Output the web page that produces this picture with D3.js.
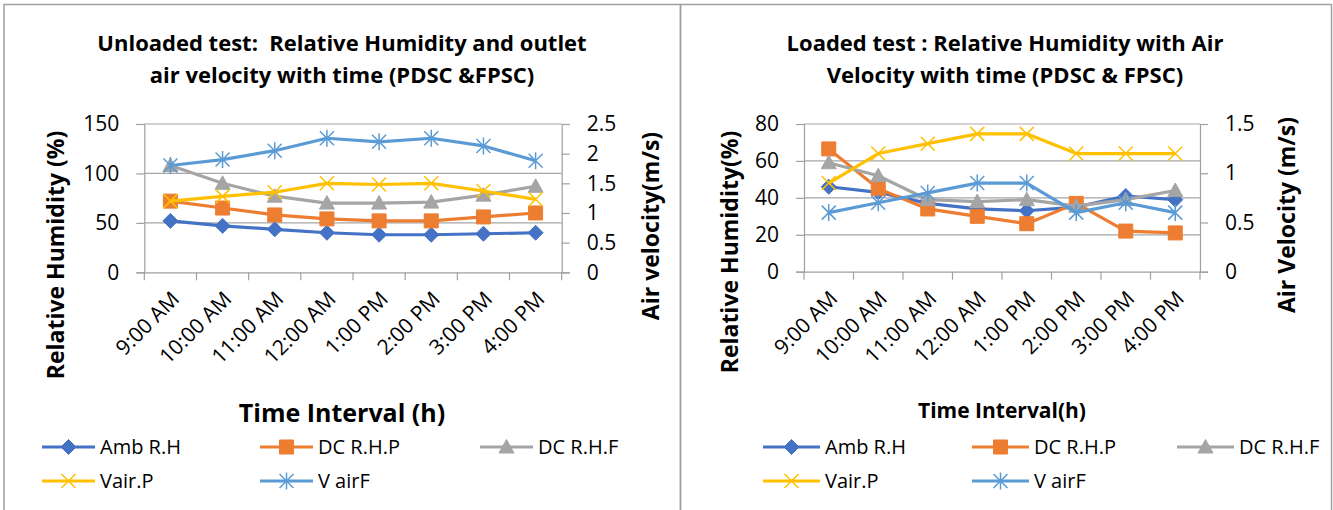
<!DOCTYPE html>
<html>
<head>
<meta charset="utf-8">
<script src="https://cdn.jsdelivr.net/npm/d3@7"></script>
<style>
body { margin: 0; background: #fff; }
text { font-family: "Open Sans", sans-serif; fill: #000; white-space: pre; }
</style>
</head>
<body>
<script>
"use strict";

var times = ["9:00 AM", "10:00 AM", "11:00 AM", "12:00 AM", "1:00 PM", "2:00 PM", "3:00 PM", "4:00 PM"];
var series_names = ["Amb R.H", "DC R.H.P", "DC R.H.F", "Vair.P", "V airF"];

// unloaded test
var unloaded_amb_rh = [52, 47, 43.5, 40, 38, 38, 39, 40];
var unloaded_dc_rhp = [72, 65, 58, 54, 52, 52, 56, 60];
var unloaded_dc_rhf = [108, 90, 77, 70, 70, 71, 78, 87];
var unloaded_vair_p = [1.2, 1.28, 1.35, 1.5, 1.48, 1.5, 1.37, 1.23];
var unloaded_vair_f = [1.8, 1.9, 2.05, 2.26, 2.2, 2.26, 2.13, 1.88];
var unloaded_rh_ticks = [0, 50, 100, 150];
var unloaded_v_ticks = [0, 0.5, 1, 1.5, 2, 2.5];

// loaded test
var loaded_amb_rh = [46, 43, 37, 34, 33, 35, 41, 39];
var loaded_dc_rhp = [66.5, 45, 34, 30, 26, 37, 22, 21];
var loaded_dc_rhf = [59, 52, 39, 38, 39, 35.5, 39, 44];
var loaded_vair_p = [0.9, 1.2, 1.3, 1.4, 1.4, 1.2, 1.2, 1.2];
var loaded_vair_f = [0.6, 0.7, 0.8, 0.9, 0.9, 0.6, 0.7, 0.6];
var loaded_rh_ticks = [0, 20, 40, 60, 80];
var loaded_v_ticks = [0, 0.5, 1, 1.5];

var colors = ["#4472C4", "#ED7D31", "#A5A5A5", "#FFC000", "#5B9BD5"];
var shapes = ["diamond", "square", "triangle", "x", "star"];

var width = 1333;
var height = 510;

var svg = d3.select("body")
    .append("svg")
    .attr("width", width)
    .attr("height", height);

function marker_path(shape) {
    if (shape === "diamond") return "M0,-7.5L7.5,0L0,7.5L-7.5,0Z";
    if (shape === "square") return "M-7,-7H7V7H-7Z";
    if (shape === "triangle") return "M0,-7.5L7.5,6L-7.5,6Z";
    if (shape === "x") return "M-7,-7L7,7M-7,7L7,-7";
    return "M-7,-7L7,7M-7,7L7,-7M0,-8.5L0,8.5";
}

function draw_marker(g, shape, color, x, y) {
    var open = (shape === "x" || shape === "star");
    g.append("path")
        .attr("transform", "translate(" + x + "," + y + ")")
        .attr("d", marker_path(shape))
        .attr("fill", open ? "none" : color)
        .attr("stroke", color)
        .attr("stroke-width", open ? 1.5 : 1);
}

function draw_chart(c) {
    var g = svg.append("g");

    // chart border
    g.append("rect")
        .attr("x", c.box[0]).attr("y", c.box[1])
        .attr("width", c.box[2]).attr("height", c.box[3])
        .attr("fill", "none").attr("stroke", "#a0a0a0").attr("stroke-width", 1.5);

    var x = d3.scaleBand().domain(times).range([c.left, c.right]);
    var y = d3.scaleLinear().domain([0, d3.max(c.rh_ticks)]).range([c.bottom, c.top]);
    var y2 = d3.scaleLinear().domain([0, d3.max(c.v_ticks)]).range([c.bottom, c.top]);

    // gridlines
    g.selectAll(".grid")
        .data(c.rh_ticks.slice(1))
        .enter().append("line")
        .attr("x1", c.left).attr("x2", c.right)
        .attr("y1", function(d) { return y(d); })
        .attr("y2", function(d) { return y(d); })
        .attr("stroke", "#a6a6a6").attr("stroke-width", 1.2);

    // left axis
    var ly = g.append("g")
        .attr("transform", "translate(" + c.left + ",0)")
        .call(d3.axisLeft(y).tickValues(c.rh_ticks).tickSize(8).tickPadding(17));
    // right axis
    var ry = g.append("g")
        .attr("transform", "translate(" + c.right + ",0)")
        .call(d3.axisRight(y2).tickValues(c.v_ticks).tickFormat(d3.format("~g"))
            .tickSize(8).tickPadding(17));
    // bottom axis
    var bx = g.append("g")
        .attr("transform", "translate(0," + c.bottom + ")")
        .call(d3.axisBottom(x).tickSize(0).tickFormat(""));
    bx.selectAll(".btick")
        .data(d3.range(times.length + 1))
        .enter().append("line")
        .attr("x1", function(i) { return c.left + i * x.step(); })
        .attr("x2", function(i) { return c.left + i * x.step(); })
        .attr("y1", 0).attr("y2", 8)
        .attr("stroke", "#a0a0a0").attr("stroke-width", 1.2);

    [ly, ry, bx].forEach(function(a) {
        a.select(".domain").attr("stroke", "#a0a0a0").attr("stroke-width", 1.2);
        a.selectAll(".tick line").attr("stroke", "#a0a0a0").attr("stroke-width", 1.2);
        a.selectAll("text").style("font-size", c.tick_size + "px")
            .style("font-family", "'Open Sans', sans-serif").attr("fill", "#000");
    });

    // category labels
    g.selectAll(".xlab")
        .data(times)
        .enter().append("text")
        .attr("transform", function(d) {
            return "translate(" + (x(d) + x.bandwidth() / 2 + 5) + "," + (c.bottom + 23) + ")rotate(-45)";
        })
        .attr("text-anchor", "end")
        .attr("dy", "0.35em")
        .style("font-size", c.tick_size + "px")
        .text(function(d) { return d; });

    // series
    var line_rh = d3.line()
        .x(function(d, i) { return x(times[i]) + x.bandwidth() / 2; })
        .y(function(d) { return y(d); });
    var line_v = d3.line()
        .x(function(d, i) { return x(times[i]) + x.bandwidth() / 2; })
        .y(function(d) { return y2(d); });

    c.series.forEach(function(s, k) {
        var ln = k < 3 ? line_rh : line_v;
        var sc = k < 3 ? y : y2;
        g.append("path")
            .attr("d", ln(s))
            .attr("fill", "none")
            .attr("stroke", colors[k])
            .attr("stroke-width", 3.2)
            .attr("stroke-linejoin", "round");
        s.forEach(function(v, i) {
            draw_marker(g, shapes[k], colors[k], x(times[i]) + x.bandwidth() / 2, sc(v));
        });
    });

    // titles
    c.title.forEach(function(t, i) {
        g.append("text")
            .attr("x", c.cx).attr("y", c.title_y[i])
            .attr("text-anchor", "middle").attr("dy", "0.35em")
            .style("font-size", c.title_size + "px").style("font-weight", "bold")
            .text(t);
    });
    g.append("text")
        .attr("transform", "translate(" + c.ytitle[0] + "," + c.ytitle[1] + ")rotate(-90)")
        .attr("text-anchor", "middle").attr("dy", "0.35em")
        .style("font-size", c.ytitle_size + "px").style("font-weight", "bold")
        .text(c.ytitle[2]);
    g.append("text")
        .attr("transform", "translate(" + c.y2title[0] + "," + c.y2title[1] + ")rotate(-90)")
        .attr("text-anchor", "middle").attr("dy", "0.35em")
        .style("font-size", c.ytitle_size + "px").style("font-weight", "bold")
        .text(c.y2title[2]);
    g.append("text")
        .attr("x", c.xtitle[0]).attr("y", c.xtitle[1])
        .attr("text-anchor", "middle").attr("dy", "0.35em")
        .style("font-size", c.xtitle_size + "px").style("font-weight", "bold")
        .text(c.xtitle[2]);

    // legend
    series_names.forEach(function(name, k) {
        var lx = c.legend_x[k % 3];
        var lyy = c.legend_y[Math.floor(k / 3)];
        g.append("line")
            .attr("x1", lx).attr("x2", lx + c.legend_len)
            .attr("y1", lyy).attr("y2", lyy)
            .attr("stroke", colors[k]).attr("stroke-width", 3.2);
        draw_marker(g, shapes[k], colors[k], lx + c.legend_len / 2, lyy);
        g.append("text")
            .attr("x", lx + c.legend_len + 5).attr("y", lyy)
            .attr("dy", "0.35em")
            .style("font-size", c.legend_size + "px")
            .text(name);
    });
}

draw_chart({
    box: [4, 4.5, 676.5, 520],
    left: 144.3, right: 561.7, top: 124, bottom: 272.3,
    rh_ticks: unloaded_rh_ticks, v_ticks: unloaded_v_ticks,
    series: [unloaded_amb_rh, unloaded_dc_rhp, unloaded_dc_rhf, unloaded_vair_p, unloaded_vair_f],
    cx: 342, title_y: [43, 75], title_size: 22,
    title: ["Unloaded test:  Relative Humidity and outlet", "air velocity with time (PDSC &FPSC)"],
    ytitle: [56, 255, "Relative Humidity (%)"],
    y2title: [651, 226, "Air velocity(m/s)"],
    ytitle_size: 23,
    xtitle: [342, 413, "Time Interval (h)"], xtitle_size: 25,
    tick_size: 21,
    legend_x: [42, 260, 480], legend_y: [447, 481], legend_len: 53, legend_size: 20
});

draw_chart({
    box: [680.5, 4.5, 651, 520],
    left: 804, right: 1200, top: 124, bottom: 271.7,
    rh_ticks: loaded_rh_ticks, v_ticks: loaded_v_ticks,
    series: [loaded_amb_rh, loaded_dc_rhp, loaded_dc_rhf, loaded_vair_p, loaded_vair_f],
    cx: 1005, title_y: [43, 75], title_size: 22,
    title: ["Loaded test : Relative Humidity with Air", "Velocity with time (PDSC & FPSC)"],
    ytitle: [730, 252, "Relative Humidity(%)"],
    y2title: [1287, 215, "Air Velocity (m/s)"],
    ytitle_size: 23,
    xtitle: [1002, 411, "Time Interval(h)"], xtitle_size: 21,
    tick_size: 21,
    legend_x: [763, 972, 1177], legend_y: [447, 481], legend_len: 57, legend_size: 20
});
</script>
</body>
</html>
